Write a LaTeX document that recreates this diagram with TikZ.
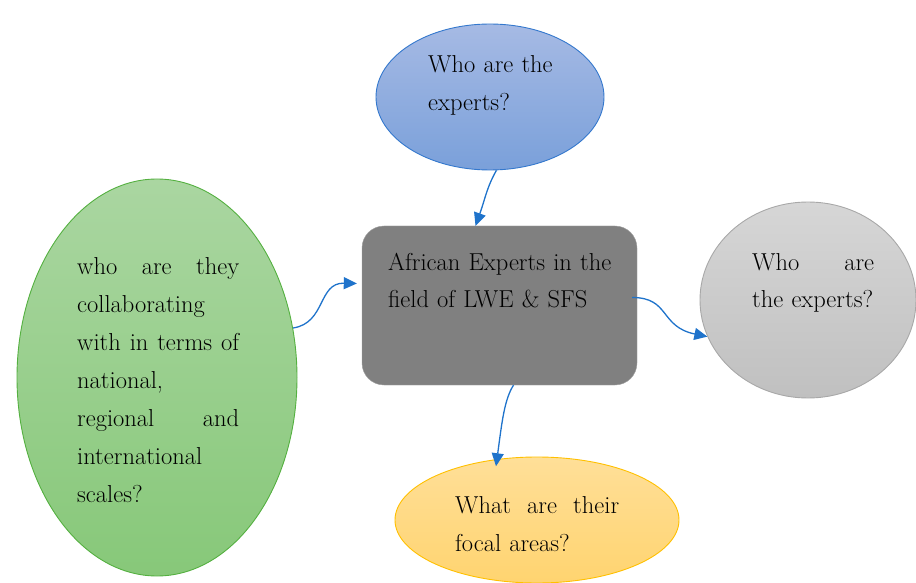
\documentclass[tikz,border=0pt]{standalone}
\usepackage{tikz}
\usetikzlibrary{shapes.geometric,arrows.meta}

\definecolor{linkblue}{RGB}{31,115,203}
\definecolor{blueedge}{RGB}{52,120,205}
\definecolor{bluetop}{RGB}{166,186,228}
\definecolor{bluebot}{RGB}{122,160,218}
\definecolor{greenedge}{RGB}{84,176,64}
\definecolor{greentop}{RGB}{170,214,161}
\definecolor{greenbot}{RGB}{135,200,121}
\definecolor{greyedge}{RGB}{168,168,168}
\definecolor{greytop}{RGB}{214,214,214}
\definecolor{greybot}{RGB}{192,192,192}
\definecolor{yellowedge}{RGB}{255,192,0}
\definecolor{yellowtop}{RGB}{255,223,152}
\definecolor{yellowbot}{RGB}{255,212,112}
\definecolor{boxgrey}{RGB}{128,128,128}
\definecolor{boxedge}{RGB}{160,160,160}

% a line spread to a given width
\newcommand{\spreadline}[2]{\leavevmode\hbox to #1{#2}}

\begin{document}
\begin{tikzpicture}[x=1pt,y=1pt,
  bubble/.style={ellipse, inner sep=0pt, line width=0.9pt},
  words/.style={anchor=base west, inner sep=0pt, align=left,
    font=\fontsize{24.5}{38}\selectfont},
  link/.style={draw=linkblue, line width=1.3pt,
    -{Triangle[length=13pt,width=12pt]}}]
  \useasboundingbox (0,0) rectangle (916,582);

  % Draw the bubbles
  \node[bubble, draw=blueedge, top color=bluetop, bottom color=bluebot,
    minimum width=228pt, minimum height=146pt] (experts) at (490,485) {};
  \node[bubble, draw=greenedge, top color=greentop, bottom color=greenbot,
    minimum width=280pt, minimum height=397pt] (partners) at (157,204.5) {};
  \node[bubble, draw=greyedge, top color=greytop, bottom color=greybot,
    minimum width=216pt, minimum height=196pt] (who) at (808,282) {};
  \node[bubble, draw=yellowedge, top color=yellowtop, bottom color=yellowbot,
    minimum width=284pt, minimum height=126pt] (focus) at (537,62) {};

  % Draw the central box
  \node[draw=boxedge, fill=boxgrey, rounded corners=22pt, inner sep=0pt,
    minimum width=275pt, minimum height=159pt] (lwe) at (499.5,276.5) {};

  % Write the texts
  \node[words, text width=150pt] (expertstext) at (428,509)
    {Who are the\\experts?};
  \node[words, text width=250pt] (lwetext) at (388,312)
    {African Experts in the\\field of LWE \& SFS};
  \node[words, text width=175pt] (partnerstext) at (77,307)
    {\spreadline{162pt}{who\hfill are\hfill they}\\collaborating\\
     \spreadline{162pt}{with\hfill in\hfill terms\hfill of}\\national,\\
     \spreadline{162pt}{regional\hfill and}\\international\\scales?};
  \node[words, text width=140pt] (whotext) at (752,312)
    {\spreadline{122pt}{Who\hfill are}\\the experts?};
  \node[words, text width=175pt] (focustext) at (455,69)
    {\spreadline{164pt}{What\hfill are\hfill their}\\focal areas?};

  % Draw the links
  \draw[link] (experts.-85) .. controls +(-10,-18) and +(10,28) .. ([xshift=-24pt]lwe.north);
  \draw[link] (partners.20) .. controls +(33,5) and +(-39,1) .. ([xshift=-5pt,yshift=22pt]lwe.west);
  \draw[link] ([xshift=-5pt,yshift=8pt]lwe.east) .. controls +(38,0) and +(-48,10) .. (who.200);
  \draw[link] ([xshift=14pt]lwe.south) .. controls +(-9,-14) and +(6,45) .. ([yshift=-7pt]focus.124);
\end{tikzpicture}
\end{document}
